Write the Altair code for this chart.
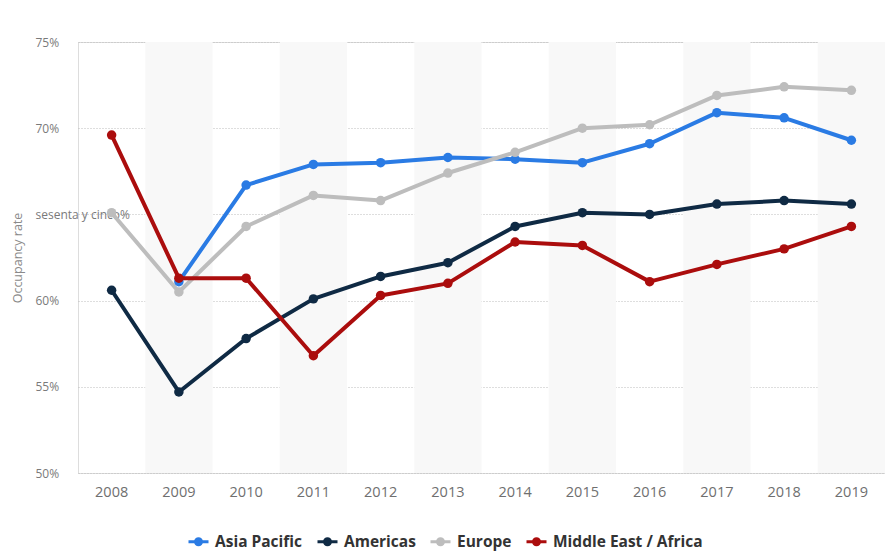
import altair as alt
import pandas as pd

years = ["2008", "2009", "2010", "2011", "2012", "2013", "2014", "2015", "2016", "2017", "2018", "2019"]
regions = ["Asia Pacific", "Americas", "Europe", "Middle East / Africa"]
colors = ["#2a7be4", "#0f2a44", "#bdbdbd", "#ab0d0d"]

asia_pacific = [None, 61.1, 66.7, 67.9, 68.0, 68.3, 68.2, 68.0, 69.1, 70.9, 70.6, 69.3]
americas = [60.6, 54.7, 57.8, 60.1, 61.4, 62.2, 64.3, 65.1, 65.0, 65.6, 65.8, 65.6]
europe = [65.1, 60.5, 64.3, 66.1, 65.8, 67.4, 68.6, 70.0, 70.2, 71.9, 72.4, 72.2]
middle_east_africa = [69.6, 61.3, 61.3, 56.8, 60.3, 61.0, 63.4, 63.2, 61.1, 62.1, 63.0, 64.3]

y_ticks = [50, 55, 60, 65, 70, 75]

series = [asia_pacific, americas, europe, middle_east_africa]
rows = []
for reg, vals in zip(regions, series):
    for i, (yr, v) in enumerate(zip(years, vals)):
        if v is not None:
            rows.append({"year": yr, "region": reg, "rate": v, "order": i})
df = pd.DataFrame(rows)
stripes = pd.DataFrame({"year": years[1::2]})

x_enc = alt.X("year:N", sort=years,
              scale=alt.Scale(domain=years, paddingInner=0, paddingOuter=0),
              axis=alt.Axis(title=None, labelAngle=0, labelFont="Open Sans",
                            labelFontSize=14.5, labelColor="#6f6f6f", labelPadding=12,
                            domain=False, ticks=False, grid=False))

y_scale = alt.Scale(domain=[50, 75], nice=False, zero=False)

bg = alt.Chart(stripes).mark_rect(color="#f8f8f8").encode(
    x=x_enc,
    y=alt.Y(datum=75, scale=y_scale),
    y2=alt.datum(50),
)

color = alt.Color("region:N", scale=alt.Scale(domain=regions, range=colors),
                  legend=alt.Legend(title=None, orient="none", direction="horizontal",
                                    legendX=109, legendY=488, padding=0,
                                    labelFont="Open Sans", labelFontSize=15.5,
                                    labelFontWeight="bold", labelColor="#333333",
                                    symbolType="M-1,0L1,0M0.3,0A0.3,0.3,0,1,1,-0.3,0A0.3,0.3,0,1,1,0.3,0",
                                    symbolSize=400, symbolStrokeWidth=3,
                                    columnPadding=8, labelOffset=5))

y_enc = alt.Y("rate:Q", scale=y_scale,
              axis=alt.Axis(title="Occupancy rate", values=y_ticks,
                            labelExpr="datum.value == 65 ? 'sesenta y cinco%' : datum.value + '%'",
                            labelAlign="left", labelPadding=43, labelFont="Open Sans",
                            labelFontSize=12, labelColor="#7a7a7a",
                            titleFont="Open Sans", titleFontSize=12.5, titleFontWeight="normal",
                            titleColor="#8a8a8a", titleX=-61, titleY=215.5, titleAngle=-90,
                            titleAlign="center", titleBaseline="middle",
                            domain=False, ticks=False, grid=True, gridColor="#bdbdbd",
                            gridDash=[1, 2], gridWidth=1))

lines = alt.Chart(df).mark_line(strokeWidth=4, strokeJoin="round").encode(
    x=x_enc, y=y_enc, color=color, order="order:Q",
)
points = alt.Chart(df).mark_circle(size=90, opacity=1).encode(
    x=x_enc, y=y_enc, color=alt.Color("region:N", scale=alt.Scale(domain=regions, range=colors), legend=None),
)

chart = alt.layer(bg, lines, points).properties(
    width=807, height=431,
    autosize=alt.AutoSizeParams(type="none"),
    padding={"left": 78, "top": 42, "right": 0, "bottom": 81},
).configure_view(stroke=None).configure(background="white")

chart.save("out.html", embed_options={"renderer": "svg", "actions": False})
